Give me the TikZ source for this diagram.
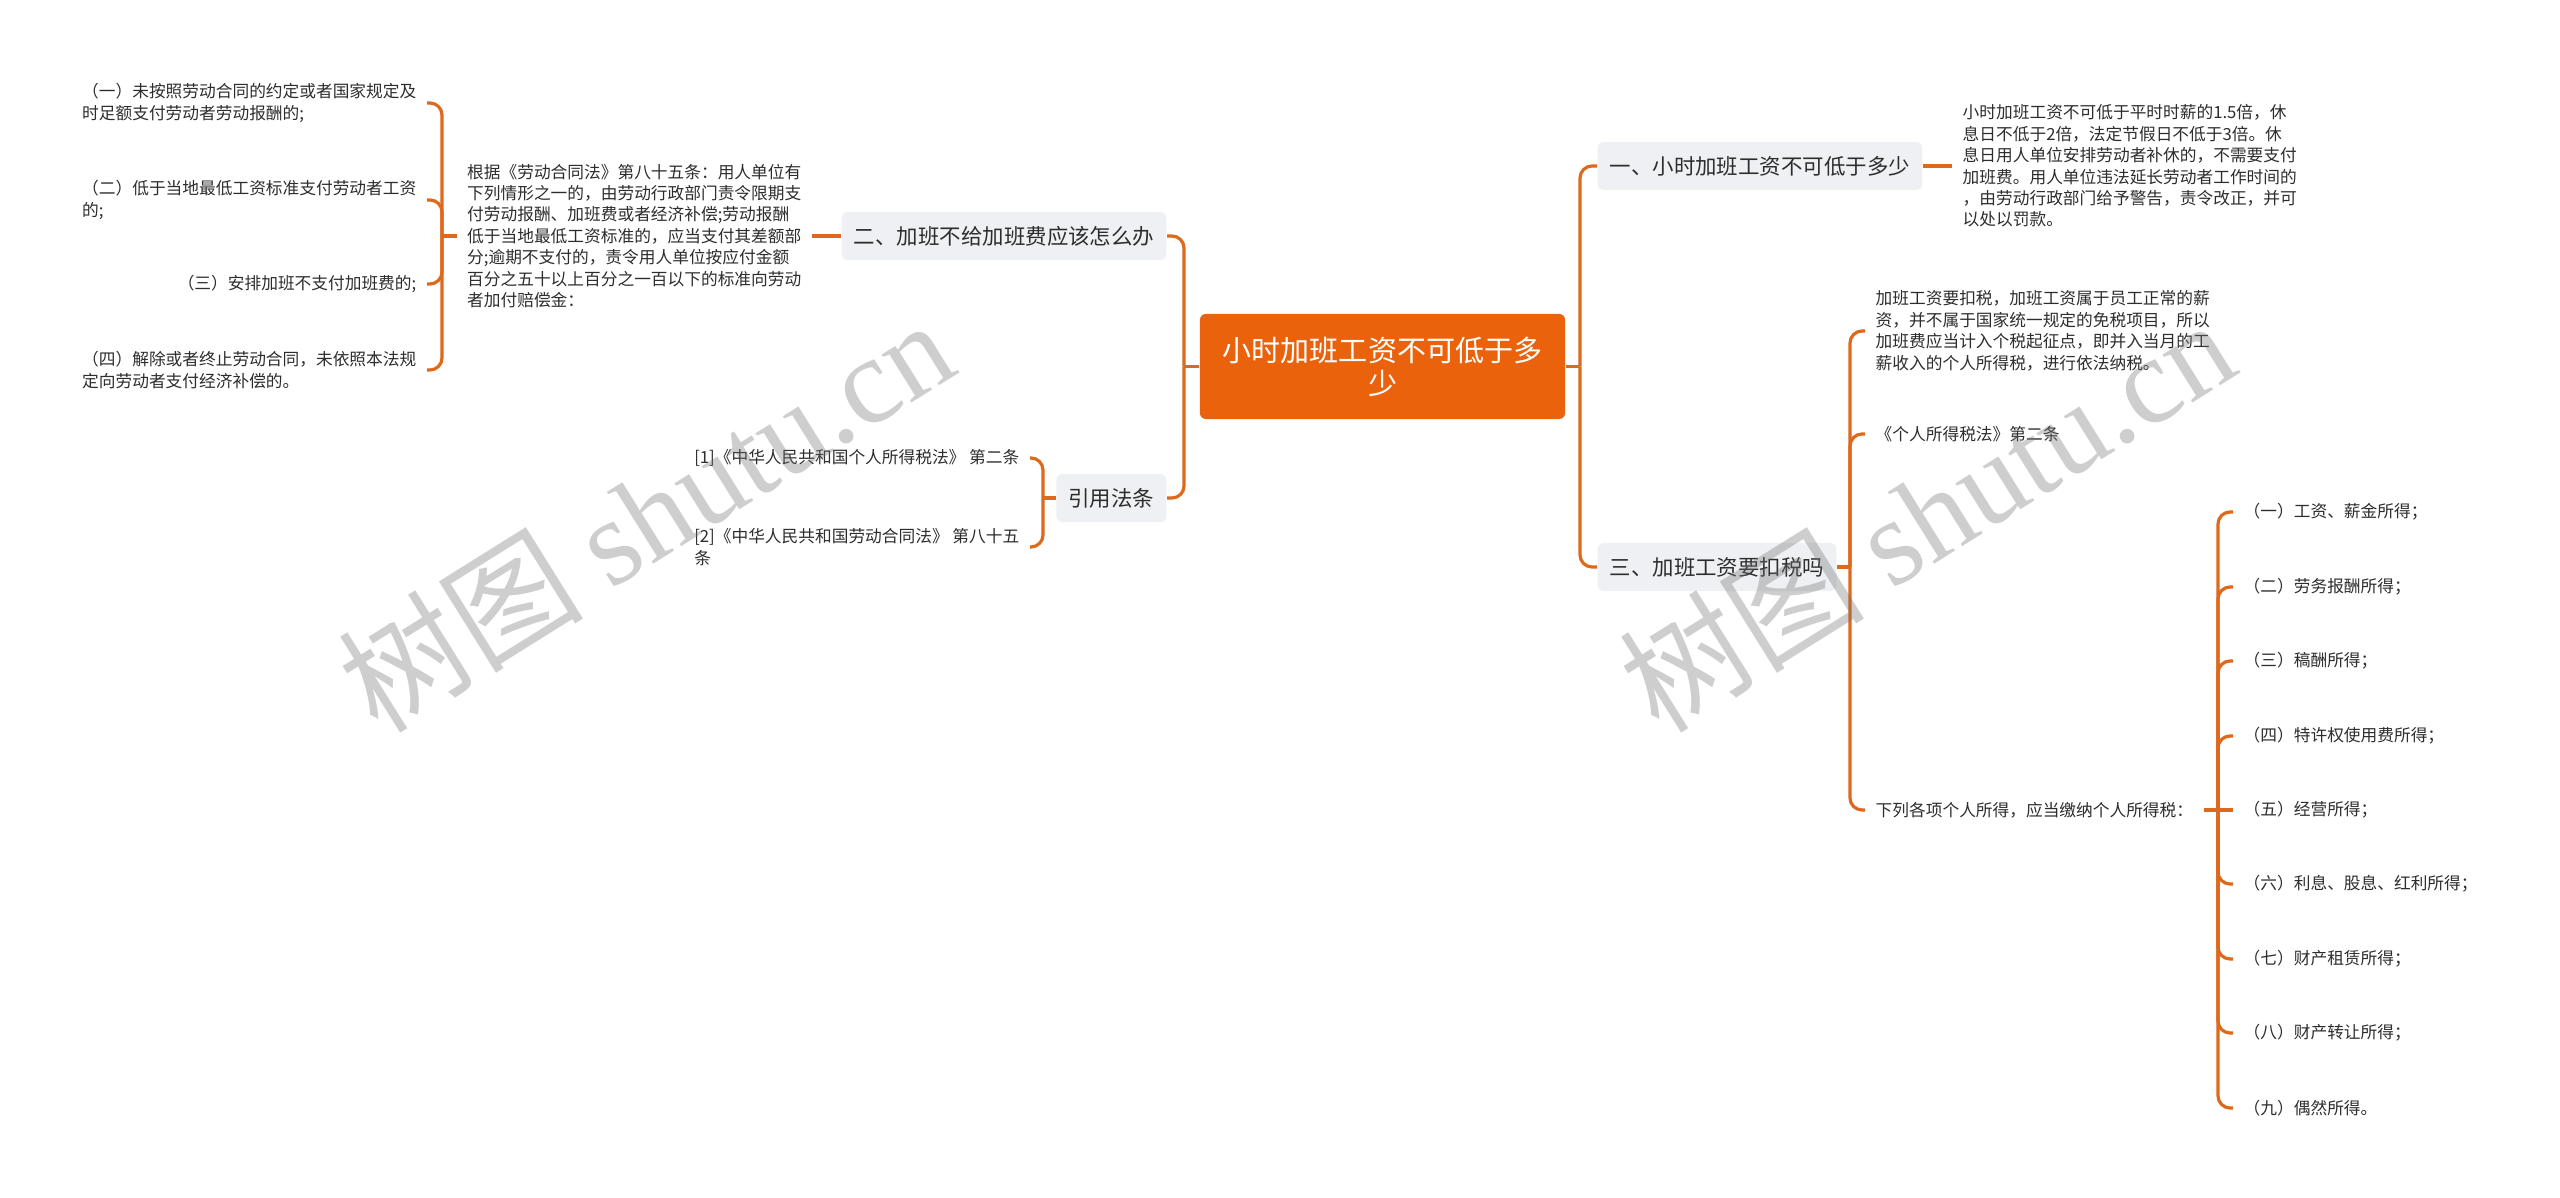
\documentclass[tikz,border=0pt]{standalone}
\usepackage{fontspec}
\setmainfont{Noto Sans CJK SC}
\newfontfamily\wmserif{Liberation Serif}
\definecolor{lineor}{RGB}{222,104,28}
\definecolor{rootor}{RGB}{234,99,12}
\definecolor{graybg}{RGB}{238,240,243}
\definecolor{txt}{RGB}{45,45,45}
\tikzset{
  conn/.style={draw=lineor, line width=0.9pt, rounded corners=0.12cm},
  rootbox/.style={fill=rootor, text=white, rounded corners=0.06cm, minimum width=3.65cm, minimum height=1.05cm, align=center, inner sep=0pt, font=\fontsize{8.25pt}{9.4pt}\selectfont},
  topic/.style={fill=graybg, text=txt, rounded corners=0.06cm, inner xsep=0.12cm, inner ysep=0pt, minimum height=0.48cm, font=\fontsize{6.1pt}{7pt}\selectfont},
  leaf/.style={text=txt, inner xsep=0.1cm, inner ysep=0.02cm, align=left, font=\fontsize{4.75pt}{6.1pt}\selectfont},
  wm/.style={rotate=32, text=black!55, text opacity=0.35, font=\fontsize{35pt}{35pt}\selectfont}
}
\begin{document}
\begin{tikzpicture}[x=0.01cm,y=-0.01cm]
\useasboundingbox (0,0) rectangle (2560,1198);
\fill[white] (0,0) rectangle (2560,1198);

% central
\node[rootbox] (root) at (1382.5,366.5) {小时加班工资不可低于多\\少};

% level one
\node[topic, anchor=west] (n1) at (1597,166) {一、小时加班工资不可低于多少};
\node[topic, anchor=west] (n3) at (1597,567) {三、加班工资要扣税吗};
\node[topic, anchor=east] (n2) at (1167,236) {二、加班不给加班费应该怎么办};
\node[topic, anchor=east] (ny) at (1167,498) {引用法条};

% right leaves
\node[leaf, anchor=west] (r1) at (1952,166) {小时加班工资不可低于平时时薪的1.5倍，休\\息日不低于2倍，法定节假日不低于3倍。休\\息日用人单位安排劳动者补休的，不需要支付\\加班费。用人单位违法延长劳动者工作时间的\\，由劳动行政部门给予警告，责令改正，并可\\以处以罚款。};

\node[leaf, anchor=west] (t1) at (1865,331) {加班工资要扣税，加班工资属于员工正常的薪\\资，并不属于国家统一规定的免税项目，所以\\加班费应当计入个税起征点，即并入当月的工\\薪收入的个人所得税，进行依法纳税。};
\node[leaf, anchor=west] (t2) at (1865,434) {《个人所得税法》第二条};
\node[leaf, anchor=west] (t3) at (1865,810) {下列各项个人所得，应当缴纳个人所得税：};

\node[leaf, anchor=west] (p1) at (2233,512) {（一）工资、薪金所得；};
\node[leaf, anchor=west] (p2) at (2233,587) {（二）劳务报酬所得；};
\node[leaf, anchor=west] (p3) at (2233,661) {（三）稿酬所得；};
\node[leaf, anchor=west] (p4) at (2233,736) {（四）特许权使用费所得；};
\node[leaf, anchor=west] (p5) at (2233,810) {（五）经营所得；};
\node[leaf, anchor=west] (p6) at (2233,884) {（六）利息、股息、红利所得；};
\node[leaf, anchor=west] (p7) at (2233,959) {（七）财产租赁所得；};
\node[leaf, anchor=west] (p8) at (2233,1033) {（八）财产转让所得；};
\node[leaf, anchor=west] (p9) at (2233,1108) {（九）偶然所得。};

% left leaves
\node[leaf, anchor=east] (g) at (812,236) {根据《劳动合同法》第八十五条：用人单位有\\下列情形之一的，由劳动行政部门责令限期支\\付劳动报酬、加班费或者经济补偿;劳动报酬\\低于当地最低工资标准的，应当支付其差额部\\分;逾期不支付的，责令用人单位按应付金额\\百分之五十以上百分之一百以下的标准向劳动\\者加付赔偿金：};

\node[leaf, anchor=east] (a1) at (427,103) {（一）未按照劳动合同的约定或者国家规定及\\时足额支付劳动者劳动报酬的;};
\node[leaf, anchor=east] (a2) at (427,200) {（二）低于当地最低工资标准支付劳动者工资\\的;};
\node[leaf, anchor=east] (a3) at (427,284) {（三）安排加班不支付加班费的;};
\node[leaf, anchor=east] (a4) at (427,370) {（四）解除或者终止劳动合同，未依照本法规\\定向劳动者支付经济补偿的。};

\node[leaf, anchor=east] (c1) at (1030,458) {[1]《中华人民共和国个人所得税法》 第二条};
\node[leaf, anchor=east] (c2) at (1030,547) {[2]《中华人民共和国劳动合同法》 第八十五\\条};

% junctions
\coordinate (jr) at (1580,366.5);
\coordinate (jl) at (1184,366.5);
\coordinate (j3) at (1850,567);
\coordinate (j4) at (2218,810);
\coordinate (jg) at (442,236);
\coordinate (jy) at (1043,498);

% connectors
\draw[conn] (root.east) -- (jr);
\draw[conn] (jr) -- (jr |- n1.west) -- (n1.west);
\draw[conn] (jr) -- (jr |- n3.west) -- (n3.west);
\draw[conn] (root.west) -- (jl);
\draw[conn] (jl) -- (jl |- n2.east) -- (n2.east);
\draw[conn] (jl) -- (jl |- ny.east) -- (ny.east);

\draw[conn] (n1.east) -- (r1.west);

\draw[conn] (n3.east) -- (j3);
\draw[conn] (j3) -- (j3 |- t1.west) -- (t1.west);
\draw[conn] (j3) -- (j3 |- t2.west) -- (t2.west);
\draw[conn] (j3) -- (j3 |- t3.west) -- (t3.west);

\draw[conn] (t3.east) -- (j4);
\draw[conn] (j4) -- (j4 |- p1.west) -- (p1.west);
\draw[conn] (j4) -- (j4 |- p2.west) -- (p2.west);
\draw[conn] (j4) -- (j4 |- p3.west) -- (p3.west);
\draw[conn] (j4) -- (j4 |- p4.west) -- (p4.west);
\draw[conn] (j4) -- (p5.west);
\draw[conn] (j4) -- (j4 |- p6.west) -- (p6.west);
\draw[conn] (j4) -- (j4 |- p7.west) -- (p7.west);
\draw[conn] (j4) -- (j4 |- p8.west) -- (p8.west);
\draw[conn] (j4) -- (j4 |- p9.west) -- (p9.west);

\draw[conn] (n2.west) -- (g.east);
\draw[conn] (g.west) -- (jg);
\draw[conn] (jg) -- (jg |- a1.east) -- (a1.east);
\draw[conn] (jg) -- (jg |- a2.east) -- (a2.east);
\draw[conn] (jg) -- (jg |- a3.east) -- (a3.east);
\draw[conn] (jg) -- (jg |- a4.east) -- (a4.east);

\draw[conn] (ny.west) -- (jy);
\draw[conn] (jy) -- (jy |- c1.east) -- (c1.east);
\draw[conn] (jy) -- (jy |- c2.east) -- (c2.east);

% watermarks
\node[wm] (w1) at (645,514) {树图 {\wmserif shutu.cn}};
\node[wm] (w2) at (1926,514) {树图 {\wmserif shutu.cn}};
\end{tikzpicture}
\end{document}
